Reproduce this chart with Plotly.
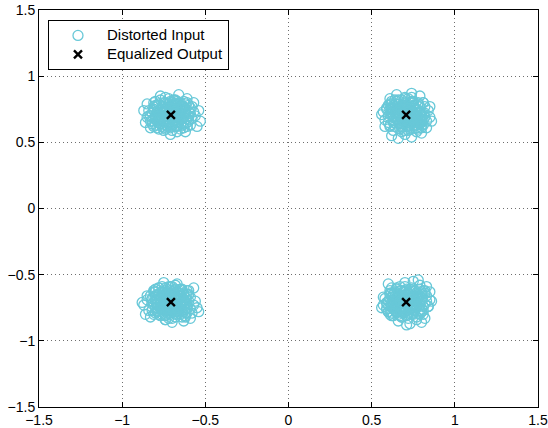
import plotly.graph_objects as go

# Distorted input symbols (hand-read approximations of the four clusters)
tl_x = [-0.71, -0.66, -0.75, -0.78, -0.68, -0.62, -0.73, -0.60, -0.81, -0.65, -0.77, -0.69, -0.58, -0.84, -0.63, -0.74, -0.56, -0.80, -0.67, -0.86, -0.54, -0.61, -0.83, -0.70, -0.76, -0.64, -0.72, -0.68, -0.79, -0.59, -0.75, -0.65, -0.82, -0.57, -0.71, -0.87, -0.62, -0.77, -0.53, -0.66, -0.85, -0.69, -0.74, -0.63, -0.78, -0.60, -0.67, -0.80, -0.70, -0.55,
        -0.69, -0.73, -0.67, -0.75, -0.70, -0.72, -0.65, -0.77, -0.71, -0.71, -0.68, -0.74, -0.68, -0.74, -0.64, -0.78, -0.66, -0.76, -0.63, -0.79, -0.69, -0.73, -0.65, -0.77, -0.62, -0.80, -0.67, -0.75, -0.70, -0.72, -0.66, -0.76, -0.69, -0.73, -0.61, -0.81, -0.64, -0.78, -0.71, -0.68,
        -0.66, -0.76, -0.70, -0.72, -0.63, -0.79, -0.67, -0.75, -0.61, -0.81, -0.65, -0.77, -0.60, -0.82, -0.68, -0.74, -0.64, -0.78, -0.71, -0.71, -0.59, -0.83, -0.62, -0.80, -0.69, -0.73, -0.66, -0.76, -0.58, -0.84, -0.70, -0.72, -0.63, -0.79, -0.67, -0.75, -0.65, -0.77, -0.61, -0.81,
        -0.69, -0.73, -0.65, -0.77, -0.62, -0.80, -0.70, -0.72, -0.67, -0.75, -0.64, -0.78, -0.68, -0.74, -0.60, -0.82, -0.66, -0.76, -0.63, -0.79, -0.71, -0.71, -0.69, -0.73, -0.59, -0.83, -0.65, -0.77, -0.61, -0.81, -0.68, -0.74, -0.70, -0.72, -0.62, -0.80, -0.67, -0.75, -0.57, -0.85]
tl_y = [0.71, 0.74, 0.77, 0.69, 0.65, 0.72, 0.62, 0.67, 0.75, 0.80, 0.64, 0.82, 0.77, 0.70, 0.61, 0.84, 0.70, 0.81, 0.58, 0.65, 0.74, 0.83, 0.61, 0.76, 0.72, 0.68, 0.67, 0.79, 0.78, 0.63, 0.59, 0.75, 0.66, 0.80, 0.56, 0.74, 0.58, 0.85, 0.66, 0.86, 0.79, 0.69, 0.74, 0.77, 0.60, 0.73, 0.63, 0.69, 0.80, 0.62,
        0.72, 0.70, 0.69, 0.73, 0.75, 0.67, 0.71, 0.71, 0.77, 0.65, 0.74, 0.68, 0.67, 0.75, 0.75, 0.67, 0.65, 0.77, 0.69, 0.73, 0.79, 0.63, 0.78, 0.64, 0.74, 0.68, 0.62, 0.80, 0.70, 0.72, 0.73, 0.69, 0.66, 0.76, 0.65, 0.77, 0.63, 0.79, 0.73, 0.71,
        0.70, 0.72, 0.78, 0.64, 0.76, 0.66, 0.81, 0.61, 0.68, 0.74, 0.60, 0.82, 0.78, 0.64, 0.69, 0.73, 0.72, 0.70, 0.61, 0.81, 0.72, 0.70, 0.64, 0.78, 0.74, 0.68, 0.80, 0.62, 0.68, 0.74, 0.63, 0.79, 0.81, 0.61, 0.76, 0.66, 0.67, 0.75, 0.80, 0.62,
        0.77, 0.65, 0.68, 0.74, 0.72, 0.70, 0.68, 0.74, 0.75, 0.67, 0.77, 0.65, 0.62, 0.80, 0.70, 0.72, 0.66, 0.76, 0.65, 0.77, 0.80, 0.62, 0.72, 0.70, 0.76, 0.66, 0.73, 0.69, 0.62, 0.80, 0.82, 0.60, 0.59, 0.83, 0.79, 0.63, 0.70, 0.72, 0.73, 0.69]

tr_x = [0.71, 0.74, 0.77, 0.69, 0.65, 0.72, 0.62, 0.67, 0.75, 0.80, 0.64, 0.82, 0.77, 0.70, 0.61, 0.84, 0.70, 0.81, 0.58, 0.65, 0.74, 0.83, 0.61, 0.76, 0.72, 0.68, 0.67, 0.79, 0.78, 0.63, 0.59, 0.75, 0.66, 0.80, 0.56, 0.74, 0.58, 0.85, 0.66, 0.86, 0.79, 0.69, 0.74, 0.77, 0.60, 0.73, 0.63, 0.69, 0.80, 0.62,
        0.72, 0.70, 0.69, 0.73, 0.75, 0.67, 0.71, 0.71, 0.77, 0.65, 0.74, 0.68, 0.67, 0.75, 0.75, 0.67, 0.65, 0.77, 0.69, 0.73, 0.79, 0.63, 0.78, 0.64, 0.74, 0.68, 0.62, 0.80, 0.70, 0.72, 0.73, 0.69, 0.66, 0.76, 0.65, 0.77, 0.63, 0.79, 0.73, 0.71,
        0.70, 0.72, 0.78, 0.64, 0.76, 0.66, 0.81, 0.61, 0.68, 0.74, 0.60, 0.82, 0.78, 0.64, 0.69, 0.73, 0.72, 0.70, 0.61, 0.81, 0.72, 0.70, 0.64, 0.78, 0.74, 0.68, 0.80, 0.62, 0.68, 0.74, 0.63, 0.79, 0.81, 0.61, 0.76, 0.66, 0.67, 0.75, 0.80, 0.62,
        0.69, 0.73, 0.65, 0.77, 0.62, 0.80, 0.70, 0.72, 0.67, 0.75, 0.64, 0.78, 0.68, 0.74, 0.60, 0.82, 0.66, 0.76, 0.63, 0.79, 0.71, 0.71, 0.69, 0.73, 0.59, 0.83, 0.65, 0.77, 0.61, 0.81, 0.68, 0.74, 0.70, 0.72, 0.62, 0.80, 0.67, 0.75, 0.57, 0.85]
tr_y = [0.71, 0.66, 0.75, 0.78, 0.68, 0.62, 0.73, 0.60, 0.81, 0.65, 0.77, 0.69, 0.58, 0.84, 0.63, 0.74, 0.56, 0.80, 0.67, 0.86, 0.54, 0.61, 0.83, 0.70, 0.76, 0.64, 0.72, 0.68, 0.79, 0.59, 0.75, 0.65, 0.82, 0.57, 0.71, 0.87, 0.62, 0.77, 0.53, 0.66, 0.85, 0.69, 0.74, 0.63, 0.78, 0.60, 0.67, 0.80, 0.70, 0.55,
        0.73, 0.69, 0.75, 0.67, 0.72, 0.70, 0.77, 0.65, 0.71, 0.71, 0.74, 0.68, 0.74, 0.68, 0.78, 0.64, 0.76, 0.66, 0.79, 0.63, 0.73, 0.69, 0.77, 0.65, 0.80, 0.62, 0.75, 0.67, 0.72, 0.70, 0.76, 0.66, 0.73, 0.69, 0.81, 0.61, 0.78, 0.64, 0.71, 0.74,
        0.66, 0.76, 0.70, 0.72, 0.63, 0.79, 0.67, 0.75, 0.61, 0.81, 0.65, 0.77, 0.60, 0.82, 0.68, 0.74, 0.64, 0.78, 0.71, 0.71, 0.59, 0.83, 0.62, 0.80, 0.69, 0.73, 0.66, 0.76, 0.58, 0.84, 0.70, 0.72, 0.63, 0.79, 0.67, 0.75, 0.65, 0.77, 0.61, 0.81,
        0.77, 0.65, 0.68, 0.74, 0.72, 0.70, 0.68, 0.74, 0.75, 0.67, 0.77, 0.65, 0.62, 0.80, 0.70, 0.72, 0.66, 0.76, 0.65, 0.77, 0.80, 0.62, 0.72, 0.70, 0.76, 0.66, 0.73, 0.69, 0.62, 0.80, 0.82, 0.60, 0.59, 0.83, 0.79, 0.63, 0.70, 0.72, 0.73, 0.69]

bl_x = [-0.70, -0.75, -0.65, -0.79, -0.68, -0.61, -0.73, -0.82, -0.64, -0.76, -0.59, -0.71, -0.84, -0.62, -0.78, -0.56, -0.74, -0.67, -0.87, -0.58, -0.81, -0.69, -0.72, -0.64, -0.77, -0.66, -0.80, -0.60, -0.85, -0.70, -0.55, -0.75, -0.63, -0.83, -0.57, -0.88, -0.68, -0.73, -0.65, -0.79, -0.61, -0.76, -0.59, -0.86, -0.71, -0.67, -0.74, -0.63, -0.77, -0.54,
        -0.72, -0.70, -0.69, -0.73, -0.75, -0.67, -0.71, -0.71, -0.77, -0.65, -0.74, -0.68, -0.67, -0.75, -0.75, -0.67, -0.65, -0.77, -0.69, -0.73, -0.79, -0.63, -0.78, -0.64, -0.74, -0.68, -0.62, -0.80, -0.70, -0.72, -0.73, -0.69, -0.66, -0.76, -0.65, -0.77, -0.63, -0.79, -0.73, -0.71,
        -0.70, -0.72, -0.78, -0.64, -0.76, -0.66, -0.81, -0.61, -0.68, -0.74, -0.60, -0.82, -0.78, -0.64, -0.69, -0.73, -0.72, -0.70, -0.61, -0.81, -0.72, -0.70, -0.64, -0.78, -0.74, -0.68, -0.80, -0.62, -0.68, -0.74, -0.63, -0.79, -0.81, -0.61, -0.76, -0.66, -0.67, -0.75, -0.80, -0.62,
        -0.69, -0.73, -0.65, -0.77, -0.62, -0.80, -0.70, -0.72, -0.67, -0.75, -0.64, -0.78, -0.68, -0.74, -0.60, -0.82, -0.66, -0.76, -0.63, -0.79, -0.71, -0.71, -0.69, -0.73, -0.59, -0.83, -0.65, -0.77, -0.61, -0.81, -0.68, -0.74, -0.70, -0.72, -0.62, -0.80, -0.67, -0.75, -0.57, -0.85]
bl_y = [-0.72, -0.69, -0.66, -0.75, -0.78, -0.73, -0.63, -0.68, -0.61, -0.80, -0.67, -0.59, -0.77, -0.82, -0.60, -0.70, -0.84, -0.57, -0.73, -0.79, -0.62, -0.75, -0.67, -0.72, -0.72, -0.64, -0.79, -0.62, -0.66, -0.86, -0.75, -0.56, -0.85, -0.82, -0.60, -0.71, -0.69, -0.77, -0.80, -0.65, -0.65, -0.59, -0.83, -0.80, -0.64, -0.74, -0.73, -0.69, -0.68, -0.78,
        -0.69, -0.73, -0.67, -0.75, -0.70, -0.72, -0.65, -0.77, -0.71, -0.71, -0.68, -0.74, -0.68, -0.74, -0.64, -0.78, -0.66, -0.76, -0.63, -0.79, -0.69, -0.73, -0.65, -0.77, -0.62, -0.80, -0.67, -0.75, -0.70, -0.72, -0.66, -0.76, -0.69, -0.73, -0.61, -0.81, -0.64, -0.78, -0.71, -0.68,
        -0.66, -0.76, -0.70, -0.72, -0.63, -0.79, -0.67, -0.75, -0.61, -0.81, -0.65, -0.77, -0.60, -0.82, -0.68, -0.74, -0.64, -0.78, -0.71, -0.71, -0.59, -0.83, -0.62, -0.80, -0.69, -0.73, -0.66, -0.76, -0.58, -0.84, -0.70, -0.72, -0.63, -0.79, -0.67, -0.75, -0.65, -0.77, -0.61, -0.81,
        -0.77, -0.65, -0.68, -0.74, -0.72, -0.70, -0.68, -0.74, -0.75, -0.67, -0.77, -0.65, -0.62, -0.80, -0.70, -0.72, -0.66, -0.76, -0.65, -0.77, -0.80, -0.62, -0.72, -0.70, -0.76, -0.66, -0.73, -0.69, -0.62, -0.80, -0.82, -0.60, -0.59, -0.83, -0.79, -0.63, -0.70, -0.72, -0.73, -0.69]

br_x = [0.72, 0.69, 0.66, 0.75, 0.78, 0.73, 0.63, 0.68, 0.61, 0.80, 0.67, 0.59, 0.77, 0.82, 0.60, 0.70, 0.84, 0.57, 0.73, 0.79, 0.62, 0.75, 0.67, 0.72, 0.72, 0.64, 0.79, 0.62, 0.66, 0.86, 0.75, 0.56, 0.85, 0.82, 0.60, 0.71, 0.69, 0.77, 0.80, 0.65, 0.65, 0.59, 0.83, 0.80, 0.64, 0.74, 0.73, 0.69, 0.68, 0.78,
        0.69, 0.73, 0.67, 0.75, 0.70, 0.72, 0.65, 0.77, 0.71, 0.71, 0.68, 0.74, 0.68, 0.74, 0.64, 0.78, 0.66, 0.76, 0.63, 0.79, 0.69, 0.73, 0.65, 0.77, 0.62, 0.80, 0.67, 0.75, 0.70, 0.72, 0.66, 0.76, 0.69, 0.73, 0.61, 0.81, 0.64, 0.78, 0.71, 0.68,
        0.66, 0.76, 0.70, 0.72, 0.63, 0.79, 0.67, 0.75, 0.61, 0.81, 0.65, 0.77, 0.60, 0.82, 0.68, 0.74, 0.64, 0.78, 0.71, 0.71, 0.59, 0.83, 0.62, 0.80, 0.69, 0.73, 0.66, 0.76, 0.58, 0.84, 0.70, 0.72, 0.63, 0.79, 0.67, 0.75, 0.65, 0.77, 0.61, 0.81,
        0.69, 0.73, 0.65, 0.77, 0.62, 0.80, 0.70, 0.72, 0.67, 0.75, 0.64, 0.78, 0.68, 0.74, 0.60, 0.82, 0.66, 0.76, 0.63, 0.79, 0.71, 0.71, 0.69, 0.73, 0.59, 0.83, 0.65, 0.77, 0.61, 0.81, 0.68, 0.74, 0.70, 0.72, 0.62, 0.80, 0.67, 0.75, 0.57, 0.85]
br_y = [-0.70, -0.75, -0.65, -0.79, -0.68, -0.61, -0.73, -0.82, -0.64, -0.76, -0.59, -0.71, -0.84, -0.62, -0.78, -0.56, -0.74, -0.67, -0.87, -0.58, -0.81, -0.69, -0.72, -0.64, -0.77, -0.66, -0.80, -0.60, -0.85, -0.70, -0.55, -0.75, -0.63, -0.83, -0.57, -0.88, -0.68, -0.73, -0.65, -0.79, -0.61, -0.76, -0.59, -0.86, -0.71, -0.67, -0.74, -0.63, -0.77, -0.54,
        -0.72, -0.70, -0.69, -0.73, -0.75, -0.67, -0.71, -0.71, -0.77, -0.65, -0.74, -0.68, -0.67, -0.75, -0.75, -0.67, -0.65, -0.77, -0.69, -0.73, -0.79, -0.63, -0.78, -0.64, -0.74, -0.68, -0.62, -0.80, -0.70, -0.72, -0.73, -0.69, -0.66, -0.76, -0.65, -0.77, -0.63, -0.79, -0.73, -0.71,
        -0.70, -0.72, -0.78, -0.64, -0.76, -0.66, -0.81, -0.61, -0.68, -0.74, -0.60, -0.82, -0.78, -0.64, -0.69, -0.73, -0.72, -0.70, -0.61, -0.81, -0.72, -0.70, -0.64, -0.78, -0.74, -0.68, -0.80, -0.62, -0.68, -0.74, -0.63, -0.79, -0.81, -0.61, -0.76, -0.66, -0.67, -0.75, -0.80, -0.62,
        -0.77, -0.65, -0.68, -0.74, -0.72, -0.70, -0.68, -0.74, -0.75, -0.67, -0.77, -0.65, -0.62, -0.80, -0.70, -0.72, -0.66, -0.76, -0.65, -0.77, -0.80, -0.62, -0.72, -0.70, -0.76, -0.66, -0.73, -0.69, -0.62, -0.80, -0.82, -0.60, -0.59, -0.83, -0.79, -0.63, -0.70, -0.72, -0.73, -0.69]

# Equalized output symbols
eq_x = [-0.7071, 0.7071, -0.7071, 0.7071]
eq_y = [0.7071, 0.7071, -0.7071, -0.7071]

ticks = [-1.5, -1, -0.5, 0, 0.5, 1, 1.5]
tick_text = ["\u22121.5", "\u22121", "\u22120.5", "0", "0.5", "1", "1.5"]
series_names = ["Distorted Input", "Equalized Output"]

in_x = tl_x + tr_x + bl_x + br_x
in_y = tl_y + tr_y + bl_y + br_y

CYAN = "rgb(104,200,216)"
FONT = "Liberation Sans, Arial, sans-serif"


def legend_label(s):
    return '<span style="font-size:15px">' + s + '</span>'


fig = go.Figure()
fig.add_trace(go.Scatter(
    x=in_x, y=in_y, mode="markers", name=legend_label(series_names[0]),
    marker=dict(symbol="circle-open", size=10, color=CYAN,
                line=dict(width=1.3, color=CYAN)),
))
fig.add_trace(go.Scatter(
    x=eq_x, y=eq_y, mode="markers", name=legend_label(series_names[1]),
    marker=dict(symbol="x-thin-open", size=8, color="black",
                line=dict(width=2.4, color="black")),
))

axis_common = dict(
    range=[-1.5, 1.5], tickvals=ticks, ticktext=tick_text, automargin=False,
    showgrid=True, gridcolor="rgb(110,110,110)", griddash="1px,3px", gridwidth=1,
    zeroline=False, showline=True, linecolor="black", linewidth=1, mirror="ticks",
    ticks="inside", ticklen=5, tickcolor="black",
    tickfont=dict(family=FONT, size=14, color="black"),
)

fig.update_layout(
    width=548, height=428,
    margin=dict(l=39, r=10, t=10, b=21),
    paper_bgcolor="white", plot_bgcolor="white",
    xaxis=dict(**axis_common),
    yaxis=dict(**axis_common),
    showlegend=True,
    legend=dict(x=0.018, y=0.975, xanchor="left", yanchor="top",
                bgcolor="white", bordercolor="black", borderwidth=1,
                font=dict(family=FONT, size=12, color="black"),
                itemwidth=48, tracegroupgap=0),
)

fig.write_html("out.html", config={"displayModeBar": False},
               post_script="document.body.style.margin='0';")
